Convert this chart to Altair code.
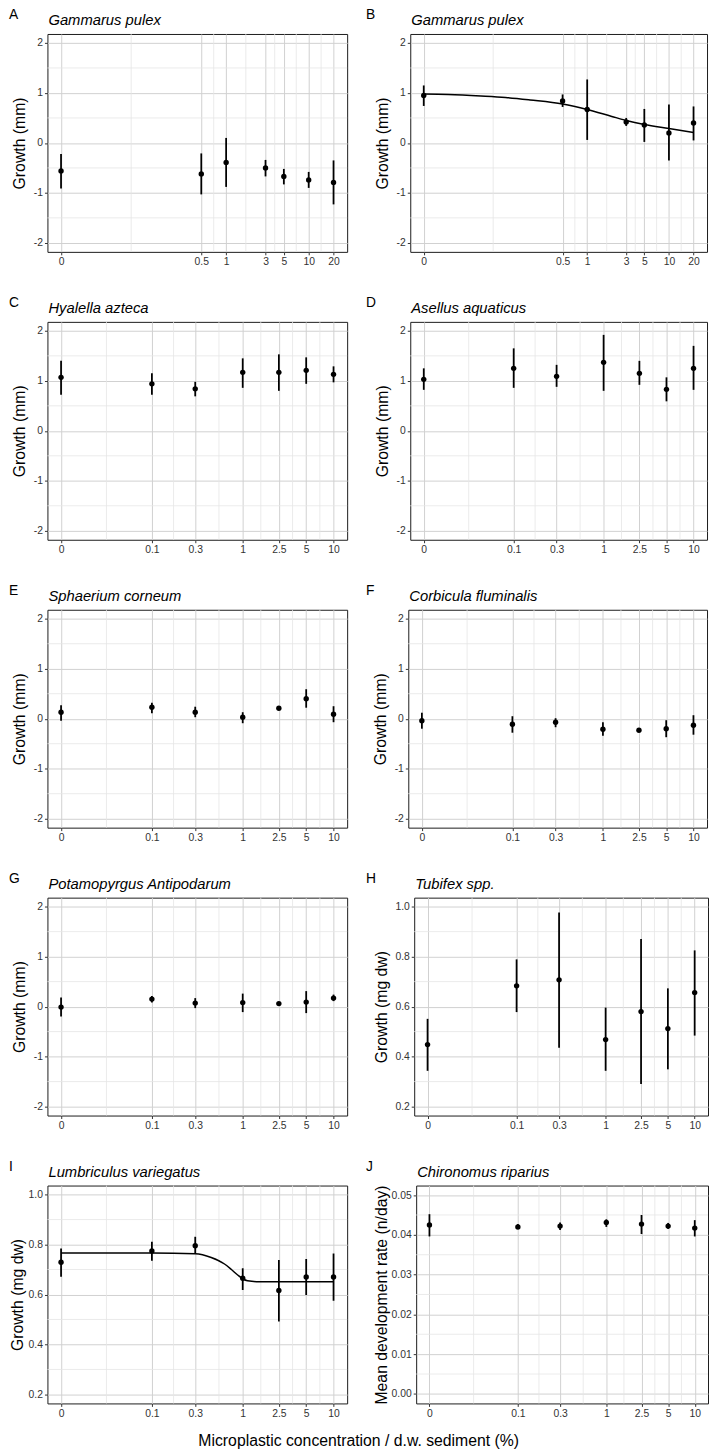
import altair as alt
import pandas as pd

FONT = "Liberation Sans"

# ---------------- data ----------------
CONC_1 = [0, 0.5, 1, 3, 5, 10, 20]
CONC_2 = [0, 0.1, 0.3, 1, 2.5, 5, 10]

XTICKS_1 = [0.01, 0.5, 1, 3, 5, 10, 20]
XMINOR_1 = [0.0707, 0.707, 1.732, 3.873, 7.071, 14.14]
XTICKS_2 = [0.01, 0.1, 0.3, 1, 2.5, 5, 10]
XMINOR_2 = [0.0316, 0.1732, 0.5477, 1.581, 3.536, 7.071]

YTICKS_MM = [-2, -1, 0, 1, 2]
YMINOR_MM = [-1.5, -0.5, 0.5, 1.5]
YTICKS_DW = [0.2, 0.4, 0.6, 0.8, 1.0]
YMINOR_DW = [0.3, 0.5, 0.7, 0.9]
YTICKS_DEV = [0.0, 0.01, 0.02, 0.03, 0.04, 0.05]
YMINOR_DEV = [0.005, 0.015, 0.025, 0.035, 0.045]

MEAN_A = [-0.56, -0.62, -0.39, -0.50, -0.67, -0.74, -0.79]
LOW_A = [-0.91, -1.03, -0.88, -0.67, -0.83, -0.90, -1.23]
HIGH_A = [-0.22, -0.21, 0.10, -0.34, -0.52, -0.58, -0.35]

MEAN_B = [0.95, 0.84, 0.67, 0.42, 0.36, 0.20, 0.40]
LOW_B = [0.74, 0.72, 0.06, 0.34, 0.02, -0.35, 0.05]
HIGH_B = [1.15, 0.97, 1.27, 0.50, 0.68, 0.77, 0.73]
FIT_B_X = [0, 0.02, 0.05, 0.1, 0.2, 0.5, 1, 2, 3, 5, 10, 20]
FIT_B_Y = [0.98, 0.97, 0.94, 0.91, 0.86, 0.78, 0.67, 0.53, 0.45, 0.37, 0.29, 0.21]

MEAN_C = [1.07, 0.94, 0.84, 1.17, 1.17, 1.21, 1.13]
LOW_C = [0.72, 0.72, 0.69, 0.86, 0.80, 0.94, 0.97]
HIGH_C = [1.40, 1.15, 0.98, 1.45, 1.53, 1.47, 1.29]

MEAN_D = [1.03, 1.25, 1.09, 1.37, 1.15, 0.83, 1.25]
LOW_D = [0.82, 0.86, 0.88, 0.80, 0.92, 0.59, 0.82]
HIGH_D = [1.25, 1.65, 1.32, 1.92, 1.40, 1.07, 1.70]

MEAN_E = [0.13, 0.23, 0.13, 0.03, 0.21, 0.40, 0.09]
LOW_E = [-0.04, 0.11, 0.03, -0.09, 0.19, 0.22, -0.07]
HIGH_E = [0.27, 0.32, 0.24, 0.13, 0.24, 0.59, 0.25]

MEAN_F = [-0.04, -0.11, -0.07, -0.21, -0.23, -0.20, -0.13]
LOW_F = [-0.20, -0.28, -0.17, -0.34, -0.26, -0.37, -0.32]
HIGH_F = [0.12, 0.05, 0.01, -0.07, -0.20, -0.03, 0.07]

MEAN_G = [-0.01, 0.15, 0.07, 0.08, 0.06, 0.09, 0.17]
LOW_G = [-0.20, 0.08, -0.03, -0.11, 0.03, -0.13, 0.11]
HIGH_G = [0.18, 0.21, 0.17, 0.26, 0.09, 0.31, 0.24]

MEAN_H = [0.448, 0.683, 0.707, 0.468, 0.580, 0.512, 0.656]
LOW_H = [0.343, 0.578, 0.435, 0.343, 0.290, 0.349, 0.484]
HIGH_H = [0.551, 0.789, 0.977, 0.596, 0.871, 0.673, 0.825]

MEAN_I = [0.729, 0.774, 0.795, 0.665, 0.616, 0.670, 0.670]
LOW_I = [0.671, 0.735, 0.764, 0.618, 0.492, 0.598, 0.575]
HIGH_I = [0.784, 0.811, 0.831, 0.705, 0.738, 0.742, 0.764]
FIT_I_X = [0, 0.1, 0.3, 0.45, 0.63, 0.75, 0.88, 1.0, 1.13, 1.5, 10]
FIT_I_Y = [0.766, 0.766, 0.763, 0.748, 0.722, 0.700, 0.678, 0.663, 0.655, 0.651, 0.651]

MEAN_J = [0.0425, 0.0420, 0.0422, 0.0431, 0.0427, 0.0422, 0.0417]
LOW_J = [0.0396, 0.0414, 0.0412, 0.0420, 0.0402, 0.0415, 0.0396]
HIGH_J = [0.0452, 0.0427, 0.0431, 0.0439, 0.0450, 0.0430, 0.0437]

X_SETS = {
    1: {"ticks": XTICKS_1, "minor": XMINOR_1, "domain": [0.006842, 29.25]},
    2: {"ticks": XTICKS_2, "minor": XMINOR_2, "domain": [0.007079, 14.125]},
}
Y_SETS = {
    "mm": {"ticks": YTICKS_MM, "minor": YMINOR_MM, "domain": [-2.18, 2.18],
           "label": "toString(datum.value)", "title": "Growth (mm)"},
    "dw": {"ticks": YTICKS_DW, "minor": YMINOR_DW, "domain": [0.164, 1.036],
           "label": "format(datum.value, '.1f')", "title": "Growth (mg dw)"},
    "dev": {"ticks": YTICKS_DEV, "minor": YMINOR_DEV, "domain": [-0.0024, 0.0524],
            "label": "format(datum.value, '.2f')", "title": "Mean development rate (n/day)"},
}

PANELS = [
    dict(letter="A", species="Gammarus pulex", conc=CONC_1, mean=MEAN_A, lo=LOW_A, hi=HIGH_A,
         xset=1, yset="mm", width=304, ldx=-39, ext=14, tpad=6),
    dict(letter="B", species="Gammarus pulex", conc=CONC_1, mean=MEAN_B, lo=LOW_B, hi=HIGH_B,
         xset=1, yset="mm", width=301, ldx=-45, ext=14, tpad=6, fit=(FIT_B_X, FIT_B_Y)),
    dict(letter="C", species="Hyalella azteca", conc=CONC_2, mean=MEAN_C, lo=LOW_C, hi=HIGH_C,
         xset=2, yset="mm", width=304, ldx=-39, ext=14, tpad=6),
    dict(letter="D", species="Asellus aquaticus", conc=CONC_2, mean=MEAN_D, lo=LOW_D, hi=HIGH_D,
         xset=2, yset="mm", width=301, ldx=-45, ext=14, tpad=6),
    dict(letter="E", species="Sphaerium corneum", conc=CONC_2, mean=MEAN_E, lo=LOW_E, hi=HIGH_E,
         xset=2, yset="mm", width=304, ldx=-39, ext=14, tpad=6),
    dict(letter="F", species="Corbicula fluminalis", conc=CONC_2, mean=MEAN_F, lo=LOW_F, hi=HIGH_F,
         xset=2, yset="mm", width=303, ldx=-43, ext=14, tpad=6),
    dict(letter="G", species="Potamopyrgus Antipodarum", conc=CONC_2, mean=MEAN_G, lo=LOW_G, hi=HIGH_G,
         xset=2, yset="mm", width=304, ldx=-39, ext=14, tpad=6),
    dict(letter="H", species="Tubifex spp.", conc=CONC_2, mean=MEAN_H, lo=LOW_H, hi=HIGH_H,
         xset=2, yset="dw", width=298, ldx=-49, ext=20, tpad=5),
    dict(letter="I", species="Lumbriculus variegatus", conc=CONC_2, mean=MEAN_I, lo=LOW_I, hi=HIGH_I,
         xset=2, yset="dw", width=304, ldx=-39, ext=20, tpad=2, fit=(FIT_I_X, FIT_I_Y)),
    dict(letter="J", species="Chironomus riparius", conc=CONC_2, mean=MEAN_J, lo=LOW_J, hi=HIGH_J,
         xset=2, yset="dev", width=296, ldx=-51, ext=25, tpad=2),
]

HEIGHT = 221
ZERO_POS = "datum.conc == 0 ? 0.01 : datum.conc"


def make_panel(p):
    xs = X_SETS[p["xset"]]
    ys = Y_SETS[p["yset"]]
    xscale = alt.Scale(type="log", domain=xs["domain"], nice=False)
    yscale = alt.Scale(domain=ys["domain"], nice=False, zero=False)
    xaxis = alt.Axis(values=xs["ticks"], title=None, labelOverlap=False, labelFlush=False,
                     labelExpr="datum.value < 0.02 ? '0' : toString(datum.value)")
    yaxis = alt.Axis(values=ys["ticks"], title=ys["title"], labelExpr=ys["label"],
                     labelOverlap=False, labelFlush=False, titlePadding=p["tpad"],
                     minExtent=p["ext"], maxExtent=p["ext"])

    def X(f):
        return alt.X(f, type="quantitative", scale=xscale, axis=xaxis)

    def Y(f):
        return alt.Y(f, type="quantitative", scale=yscale, axis=yaxis)

    minor_x = alt.Chart(pd.DataFrame({"mx": xs["minor"]})).mark_rule(
        color="#e6e6e6", strokeWidth=0.8).encode(x=X("mx"))
    minor_y = alt.Chart(pd.DataFrame({"my": ys["minor"]})).mark_rule(
        color="#e6e6e6", strokeWidth=0.8).encode(y=Y("my"))

    df = pd.DataFrame({"conc": p["conc"], "mean": p["mean"], "lo": p["lo"], "hi": p["hi"]})
    base = alt.Chart(df).transform_calculate(xpos=ZERO_POS)
    bars = base.mark_rule(color="black", strokeWidth=1.8).encode(
        x=X("xpos"), y=Y("lo"), y2=alt.Y2("hi"))
    pts = base.mark_circle(color="black", opacity=1, size=30).encode(
        x=X("xpos"), y=Y("mean"))

    layers = [minor_x, minor_y]
    if "fit" in p:
        fdf = pd.DataFrame({"conc": p["fit"][0], "fit": p["fit"][1]})
        line = alt.Chart(fdf).transform_calculate(xpos=ZERO_POS).mark_line(
            color="black", strokeWidth=1.5, interpolate="monotone").encode(
            x=X("xpos"), y=Y("fit"))
        layers.append(line)
    layers += [bars, pts]

    labels = pd.DataFrame({"letter": [p["letter"]], "species": [p["species"]]})
    letter = alt.Chart(labels).mark_text(
        align="left", baseline="top", fontSize=14, font=FONT, color="black").encode(
        text="letter:N", x=alt.value(p["ldx"]), y=alt.value(-26))
    species = alt.Chart(labels).mark_text(
        align="left", baseline="alphabetic", fontSize=15, font=FONT, fontStyle="italic",
        color="black").encode(
        text="species:N", x=alt.value(1), y=alt.value(-9))
    layers += [letter, species]

    return alt.layer(*layers).properties(width=p["width"], height=HEIGHT)


panels = [make_panel(p) for p in PANELS]
rows = [alt.hconcat(panels[i], panels[i + 1], spacing=17) for i in range(0, 10, 2)]

chart = alt.vconcat(*rows, spacing=28).properties(
    padding={"left": 0, "right": 0, "top": -11, "bottom": 0},
    title=alt.TitleParams(text="Microplastic concentration / d.w. sediment (%)",
                          orient="bottom", anchor="middle", font=FONT, fontSize=16,
                          fontWeight="normal", color="black", offset=14),
).configure_view(
    stroke="#1a1a1a", strokeWidth=1
).configure_axis(
    domain=False, grid=True, gridColor="#d0d0d0", gridWidth=1,
    tickColor="#333333", tickSize=3, tickWidth=1,
    labelFont=FONT, labelFontSize=10.5, labelColor="#333333", labelPadding=2,
    titleFont=FONT, titleFontSize=16, titleFontWeight="normal", titleColor="black",
)

chart.save("out.html", embed_options={"renderer": "svg", "actions": False})
